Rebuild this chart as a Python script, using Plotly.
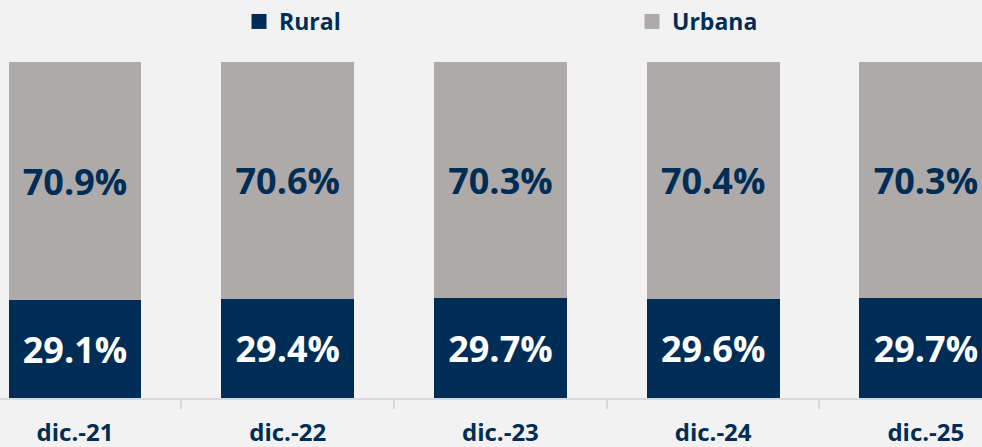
import plotly.graph_objects as go

categories = ["dic.-21", "dic.-22", "dic.-23", "dic.-24", "dic.-25"]
rural = [29.1, 29.4, 29.7, 29.6, 29.7]
urbana = [70.9, 70.6, 70.3, 70.4, 70.3]

NAVY = "#002D56"
GREY = "#AEAAAA"
BG = "#F2F2F2"
FONT = "Open Sans"

fig = go.Figure()
fig.add_trace(go.Bar(
    x=categories, y=rural, name="Rural", marker=dict(color=NAVY, line=dict(width=0)),
    width=0.625, texttemplate="%{y:.1f}%", textposition="inside",
    insidetextanchor="middle", textangle=0, constraintext="none",
    textfont=dict(family=FONT, size=36, color="white", weight="bold"),
    showlegend=False, hoverinfo="skip",
))
fig.add_trace(go.Bar(
    x=categories, y=urbana, name="Urbana", marker=dict(color=GREY, line=dict(width=0)),
    width=0.625, texttemplate="%{y:.1f}%", textposition="inside",
    insidetextanchor="middle", textangle=0, constraintext="none",
    textfont=dict(family=FONT, size=36, color=NAVY, weight="bold"),
    showlegend=False, hoverinfo="skip",
))
# legend entries (one legend box per series)
for nm, col, lg in (("Rural", NAVY, "legend"), ("Urbana", GREY, "legend2")):
    fig.add_trace(go.Scatter(
        x=[None], y=[None], mode="markers", name=nm, legend=lg,
        marker=dict(symbol="square", size=15, color=col),
    ))

legend_common = dict(
    orientation="h", xanchor="left", y=1.0, yanchor="top", yref="container",
    font=dict(family=FONT, size=23, color=NAVY, weight="bold"),
    bgcolor="rgba(0,0,0,0)", itemclick=False, itemdoubleclick=False,
)

fig.update_layout(
    width=982, height=447,
    margin=dict(l=0, r=0, t=62, b=49),
    paper_bgcolor=BG, plot_bgcolor=BG,
    barmode="stack", bargap=0.375,
    font=dict(family=FONT, color=NAVY),
    showlegend=True,
    legend=dict(x=0.2434, **legend_common),
    legend2=dict(x=0.6436, **legend_common),
    xaxis=dict(
        type="category", range=[-0.3526, 4.264], automargin=False,
        showline=True, linecolor="#D9D9D9", linewidth=1.5,
        ticks="outside", tickson="boundaries", ticklen=9, tickcolor="#D9D9D9", tickwidth=1.5,
        ticklabelstandoff=12,
        tickfont=dict(family=FONT, size=24, color=NAVY, weight="bold"),
        showgrid=False, zeroline=False, fixedrange=True,
    ),
    yaxis=dict(range=[0, 100], visible=False, showgrid=False, zeroline=False,
               fixedrange=True, automargin=False),
)

fig.write_html("out.html", config={"displayModeBar": False},
               post_script="document.body.style.margin='0';")
